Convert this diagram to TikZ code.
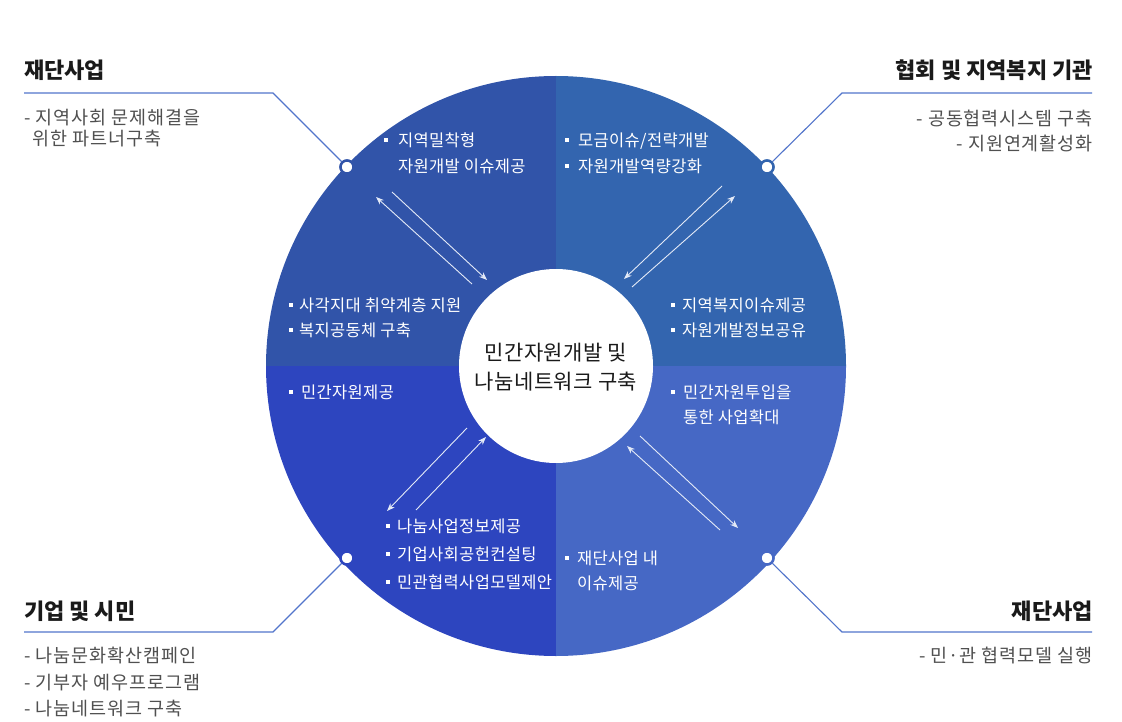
\documentclass[tikz,border=0pt]{standalone}
\usepackage{fontspec}
\setmainfont{Noto Sans CJK KR}
\newfontfamily\bodyfont{Noto Sans CJK KR}[LetterSpace=5]
\newfontfamily\inrfont{Noto Sans CJK KR}[LetterSpace=2]
\usetikzlibrary{arrows.meta}
\definecolor{qtl}{HTML}{3154A9}
\definecolor{qtr}{HTML}{3365AF}
\definecolor{qbl}{HTML}{2D45BF}
\definecolor{qbr}{HTML}{4668C5}
\definecolor{leader}{HTML}{5275CB}
\definecolor{titlec}{HTML}{1A1A1A}
\definecolor{bodyc}{HTML}{505050}
\definecolor{arrc}{HTML}{E4EAF7}
\begin{document}
\begin{tikzpicture}[x=1pt,y=-1pt,
  ttl/.style={font=\fontsize{22}{26}\selectfont\bfseries, text=titlec, inner sep=0},
  bdy/.style={font=\bodyfont\fontsize{18.5}{22}\selectfont, text=bodyc, inner sep=0},
  inr/.style={font=\inrfont\fontsize{16.5}{20}\selectfont, text=white, inner sep=0},
  ctr/.style={font=\inrfont\fontsize{21}{25}\selectfont, text=titlec, inner sep=0, anchor=base},
  bul/.style={fill=white, inner sep=0, minimum size=3.2pt, rectangle},
  dotc/.style={circle, fill=white, line width=2.4pt, minimum size=13pt, inner sep=0},
  lead/.style={draw=leader, line width=1.1pt},
  arr/.style={draw=arrc, line width=0.9pt, -{Stealth[length=8pt,width=6pt]}}]
\useasboundingbox (0,0) rectangle (1122,722);
\fill[white] (0,0) rectangle (1122,722);

\coordinate (c) at (556,366);
\begin{scope}
  \clip (c) circle[radius=290];
  \fill[qtl] (260,70) rectangle (556,366);
  \fill[qtr] (556,70) rectangle (852,366);
  \fill[qbl] (260,366) rectangle (556,662);
  \fill[qbr] (556,366) rectangle (852,662);
\end{scope}
\fill[white] (c) circle[radius=97];

% leader lines
\node[dotc, draw=qtl] (dtl) at (347,167) {};
\node[dotc, draw=qtr] (dtr) at (767,167) {};
\node[dotc, draw=qbl] (dbl) at (347,558) {};
\node[dotc, draw=qbr] (dbr) at (767,558) {};
\coordinate (ktl) at (273,93); \coordinate (etl) at (24,93);
\coordinate (ktr) at (842,93); \coordinate (etr) at (1092,93);
\coordinate (kbl) at (273,632); \coordinate (ebl) at (24,632);
\coordinate (kbr) at (842,632); \coordinate (ebr) at (1092,632);
\draw[lead] (dtl) -- (ktl) -- (etl);
\draw[lead] (dtr) -- (ktr) -- (etr);
\draw[lead] (dbl) -- (kbl) -- (ebl);
\draw[lead] (dbr) -- (kbr) -- (ebr);
\node[dotc, draw=qtl] at (dtl) {};
\node[dotc, draw=qtr] at (dtr) {};
\node[dotc, draw=qbl] at (dbl) {};
\node[dotc, draw=qbr] at (dbr) {};

% outer texts
\node[ttl, anchor=base west] (ttl1) at (24,79) {재단사업};
\node[bdy, anchor=base west] (b11) at (24,125) {- 지역사회 문제해결을};
\node[bdy, anchor=base west] (b12) at (32,146) {위한 파트너구축};

\node[ttl, anchor=base east] (ttl2) at (1093,79) {협회 및 지역복지 기관};
\node[bdy, anchor=base east] (b21) at (1093,126) {- 공동협력시스템 구축};
\node[bdy, anchor=base east] (b22) at (1093,151) {- 지원연계활성화};

\node[ttl, anchor=base west] (ttl3) at (24,619.4) {기업 및 시민};
\node[bdy, anchor=base west] (b31) at (24,662) {- 나눔문화확산캠페인};
\node[bdy, anchor=base west] (b32) at (24,689) {- 기부자 예우프로그램};
\node[bdy, anchor=base west] (b33) at (24,715) {- 나눔네트워크 구축};

\node[ttl, anchor=base east] (ttl4) at (1093,619.4) {재단사업};
\node[bdy, anchor=base east] (b41) at (1093,662) {- 민·관 협력모델 실행};

% center
\node[ctr] (m1) at (556,360) {민간자원개발 및};
\node[ctr] (m2) at (556,389) {나눔네트워크 구축};

% inner texts
\node[bul] (u1) at (386,140) {};
\node[inr, anchor=base west] (i1) at (398,146.3) {지역밀착형};
\node[inr, anchor=base west] (i1b) at (398,172.3) {자원개발 이슈제공};

\node[bul] (u2) at (567,140) {};
\node[inr, anchor=base west] (i2) at (578,146.3) {모금이슈/전략개발};
\node[bul] (u3) at (567,166) {};
\node[inr, anchor=base west] (i3) at (578,172.3) {자원개발역량강화};

\node[bul] (u4) at (291,305) {};
\node[inr, anchor=base west] (i4) at (299,311.3) {사각지대 취약계층 지원};
\node[bul] (u5) at (291,330) {};
\node[inr, anchor=base west] (i5) at (299,336.3) {복지공동체 구축};

\node[bul] (u6) at (673,305) {};
\node[inr, anchor=base west] (i6) at (682,311.3) {지역복지이슈제공};
\node[bul] (u7) at (673,330) {};
\node[inr, anchor=base west] (i7) at (682,336.3) {자원개발정보공유};

\node[bul] (u8) at (291,392) {};
\node[inr, anchor=base west] (i8) at (301,398.3) {민간자원제공};

\node[bul] (u9) at (673,392) {};
\node[inr, anchor=base west] (i9) at (683,398.3) {민간자원투입을};
\node[inr, anchor=base west] (i9b) at (683,423.3) {통한 사업확대};

\node[bul] (u10) at (388,526) {};
\node[inr, anchor=base west] (i10) at (397,532.3) {나눔사업정보제공};
\node[bul] (u11) at (388,554) {};
\node[inr, anchor=base west] (i11) at (397,560.3) {기업사회공헌컨설팅};
\node[bul] (u12) at (388,582) {};
\node[inr, anchor=base west] (i12) at (397,588.3) {민관협력사업모델제안};

\node[bul] (u13) at (567,558) {};
\node[inr, anchor=base west] (i13) at (577,564.3) {재단사업 내};
\node[inr, anchor=base west] (i13b) at (577,589.3) {이슈제공};

% arrows
\coordinate (a1s) at (472,284); \coordinate (a1e) at (376,197);
\coordinate (a2s) at (392,192); \coordinate (a2e) at (487,280);
\draw[arr] (a1s) -- (a1e);
\draw[arr] (a2s) -- (a2e);

\coordinate (a3s) at (722,186); \coordinate (a3e) at (624,279);
\coordinate (a4s) at (632,287); \coordinate (a4e) at (735,196);
\draw[arr] (a3s) -- (a3e);
\draw[arr] (a4s) -- (a4e);

\coordinate (a5s) at (467,428); \coordinate (a5e) at (387,511);
\coordinate (a6s) at (416,510); \coordinate (a6e) at (486,437);
\draw[arr] (a5s) -- (a5e);
\draw[arr] (a6s) -- (a6e);

\coordinate (a7s) at (720,530); \coordinate (a7e) at (627,446);
\coordinate (a8s) at (640,436); \coordinate (a8e) at (738,528);
\draw[arr] (a7s) -- (a7e);
\draw[arr] (a8s) -- (a8e);
\end{tikzpicture}
\end{document}
